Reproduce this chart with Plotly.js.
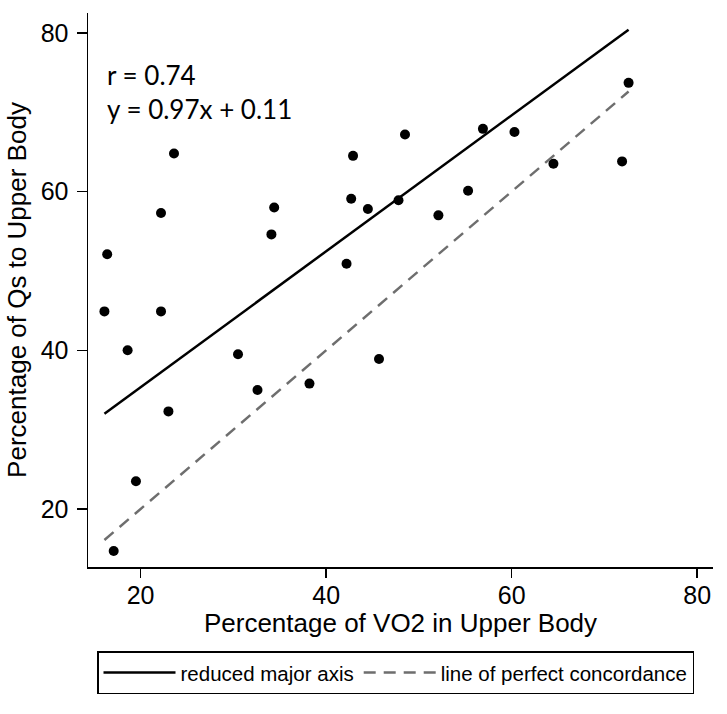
<!DOCTYPE html>
<html>
<head>
<meta charset="utf-8">
<script src="https://cdn.plot.ly/plotly-3.0.1.min.js"></script>
<style>html,body{margin:0;padding:0;background:#fff;}#chart{width:727px;height:714px;}</style>
</head>
<body>
<div id="chart"></div>
<script>
// Data
const vo2Upper = [16.1, 16.4, 17.1, 18.6, 19.5, 22.2, 22.2, 23.0, 23.6, 30.5, 32.6, 34.1, 34.4, 38.2,
                  42.2, 42.7, 42.9, 44.5, 45.7, 47.8, 48.5, 52.1, 55.3, 56.9, 60.3, 64.5, 71.9, 72.6];
const qsUpper  = [44.9, 52.1, 14.7, 40.0, 23.5, 44.9, 57.3, 32.3, 64.8, 39.5, 35.0, 54.6, 58.0, 35.8,
                  50.9, 59.1, 64.5, 57.8, 38.9, 58.9, 67.2, 57.0, 60.1, 67.9, 67.5, 63.5, 63.8, 73.7];
const rmaX = [16.1, 72.6];
const rmaY = [32.0, 80.4];
const concX = [16.1, 72.6];
const concY = [16.1, 72.6];
const xTicks = [20, 40, 60, 80];
const yTicks = [20, 40, 60, 80];
const statLines = ["r = 0.74", "y = 0.97x + 0.11"];

const axisFont = {family: "Liberation Sans, Arial, sans-serif", size: 25, color: "#000"};

const traces = [
  {x: vo2Upper, y: qsUpper, type: "scatter", mode: "markers",
   marker: {color: "#000", size: 10}, showlegend: false, hoverinfo: "skip"},
  {x: rmaX, y: rmaY, type: "scatter", mode: "lines", name: "reduced major axis",
   line: {color: "#000", width: 2.5}},
  {x: concX, y: concY, type: "scatter", mode: "lines", name: "line of perfect concordance",
   line: {color: "#6e6e6e", width: 2.5, dash: "12px,8px"}}
];

const layout = {
  width: 727, height: 714,
  margin: {l: 88, r: 14, t: 13, b: 147},
  paper_bgcolor: "#fff", plot_bgcolor: "#fff",
  font: axisFont,
  showlegend: true,
  xaxis: {
    range: [14.33, 81.7], tickvals: xTicks, ticktext: xTicks.map(String),
    showgrid: false, zeroline: false, showline: true, linecolor: "#000", linewidth: 1.5,
    ticks: "outside", ticklen: 9, tickwidth: 1.5, tickcolor: "#000",
    tickfont: axisFont, ticklabelstandoff: -4,
    title: {text: "Percentage of VO2 in Upper Body", font: {family: axisFont.family, size: 26, color: "#000"}, standoff: 2}
  },
  yaxis: {
    range: [12.69, 82.5], tickvals: yTicks, ticktext: yTicks.map(String),
    showgrid: false, zeroline: false, showline: true, linecolor: "#000", linewidth: 1.5,
    ticks: "outside", ticklen: 10, tickwidth: 1.5, tickcolor: "#000",
    tickfont: axisFont, ticklabelstandoff: 3,
    title: {text: "Percentage of Qs to Upper Body", font: {family: axisFont.family, size: 26, color: "#000"}, standoff: 6}
  },
  legend: {
    orientation: "h", x: 0.0144, xanchor: "left", y: -0.152, yanchor: "top",
    bordercolor: "#000", borderwidth: 1.5, bgcolor: "#fff",
    font: {family: "Liberation Sans, Arial, sans-serif", size: 20.5, color: "#000"},
    itemwidth: 72, traceorder: "normal"
  },
  annotations: [
    {xref: "paper", yref: "paper", x: 0.027, y: 0.888, xanchor: "left", yanchor: "middle",
     text: statLines[0], showarrow: false, font: {family: "Lato, Open Sans, sans-serif", size: 26, color: "#000"}},
    {xref: "paper", yref: "paper", x: 0.027, y: 0.8276, xanchor: "left", yanchor: "middle",
     text: statLines[1], showarrow: false, font: {family: "Lato, Open Sans, sans-serif", size: 26, color: "#000"}}
  ]
};

Plotly.newPlot("chart", traces, layout, {displayModeBar: false, staticPlot: true});
</script>
</body>
</html>
